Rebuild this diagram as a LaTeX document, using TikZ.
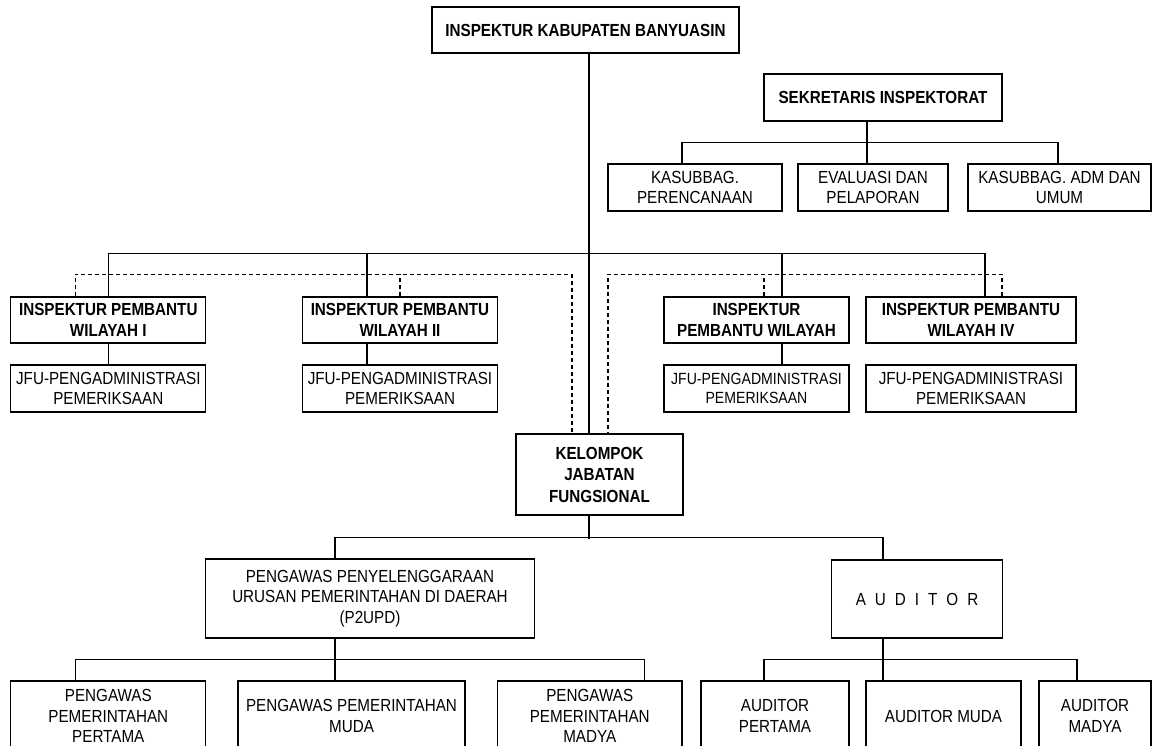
\documentclass[tikz,border=0pt]{standalone}
\usepackage{fontspec}
\setmainfont{Liberation Sans}[FakeStretch=0.87]
\usetikzlibrary{positioning}

\begin{document}
\begin{tikzpicture}[x=1pt,y=-1pt,
    kotak/.style={draw=black,line width=1.2pt,align=center,inner sep=0pt,
      font=\fontsize{17.5}{20.5}\selectfont},
    tebal/.style={kotak,font=\fontsize{17.5}{21.5}\selectfont\bfseries},
    garis/.style={line width=1.2pt},
    putus/.style={line width=1.2pt,dash pattern=on 4pt off 3pt}]
    \useasboundingbox (0,0) rectangle (1157,746);
    \clip (0,0) rectangle (1157,746);
    \fill[white] (0,0) rectangle (1157,746);
    \node[tebal,minimum width=307,minimum height=46] (kepala) at (585.5,30) {INSPEKTUR KABUPATEN BANYUASIN};
    \node[tebal,minimum width=238,minimum height=47] (sekretaris) at (883,97.5) {SEKRETARIS INSPEKTORAT};
    \node[kotak,minimum width=174,minimum height=47] (kasub1) at (695,187.5) {KASUBBAG.\\PERENCANAAN};
    \node[kotak,minimum width=150,minimum height=47] (evaluasi) at (873,187.5) {EVALUASI DAN\\PELAPORAN};
    \node[kotak,minimum width=183,minimum height=47] (kasub2) at (1059.5,187.5) {KASUBBAG. ADM DAN\\UMUM};%sekretariat%
    \node[tebal,minimum width=195,minimum height=46] (insp1) at (108.3,320) {INSPEKTUR PEMBANTU\\WILAYAH I};
    \node[tebal,minimum width=195.5,minimum height=46] (insp2) at (400,320) {INSPEKTUR PEMBANTU\\WILAYAH II};
    \node[tebal,minimum width=185,minimum height=46] (insp3) at (756.5,320) {INSPEKTUR\\PEMBANTU WILAYAH};
    \node[tebal,minimum width=210,minimum height=46] (insp4) at (971,320) {INSPEKTUR PEMBANTU\\WILAYAH IV};
    \node[kotak,minimum width=195,minimum height=47] (jfu1) at (108.3,388.5) {JFU-PENGADMINISTRASI\\PEMERIKSAAN};
    \node[kotak,minimum width=195.5,minimum height=47] (jfu2) at (400,388.5) {JFU-PENGADMINISTRASI\\PEMERIKSAAN};
    \node[kotak,minimum width=185,minimum height=47,font=\fontsize{16.2}{19}\selectfont] (jfu3) at (756.5,388.5) {JFU-PENGADMINISTRASI\\PEMERIKSAAN};
    \node[kotak,minimum width=210,minimum height=47] (jfu4) at (971,388.5) {JFU-PENGADMINISTRASI\\PEMERIKSAAN};%wilayah%
    \node[tebal,minimum width=167,minimum height=81] (kelompok) at (599.5,474.5) {KELOMPOK\\JABATAN\\FUNGSIONAL};
    \node[kotak,minimum width=329,minimum height=79] (p2upd) at (370,598.5) {PENGAWAS PENYELENGGARAAN\\URUSAN PEMERINTAHAN DI DAERAH\\(P2UPD)};
    \node[kotak,minimum width=170.5,minimum height=78] (auditor) at (917,599) {A\hspace{9pt}U\hspace{9pt}D\hspace{9pt}I\hspace{9pt}T\hspace{9pt}O\hspace{9pt}R};
    \node[kotak,minimum width=195,minimum height=70] (pp1) at (108.3,716) {PENGAWAS\\PEMERINTAHAN\\PERTAMA};
    \node[kotak,minimum width=227,minimum height=70] (pp2) at (351.5,716) {PENGAWAS PEMERINTAHAN\\MUDA};
    \node[kotak,minimum width=184.5,minimum height=70] (pp3) at (589.75,716) {PENGAWAS\\PEMERINTAHAN\\MADYA};
    \node[kotak,minimum width=148,minimum height=70] (ap1) at (775,716) {AUDITOR\\PERTAMA};
    \node[kotak,minimum width=155,minimum height=70] (ap2) at (943.5,716) {AUDITOR MUDA};
    \node[kotak,minimum width=112,minimum height=70] (ap3) at (1095,716) {AUDITOR\\MADYA};%fungsional%
    \draw[garis] ([xshift=3.5]kepala.south) -- ([xshift=3.5]kepala.south |- kelompok.north);
    \draw[garis] ([xshift=-16]sekretaris.south) -- ([xshift=-16]sekretaris.south |- evaluasi.north);
    \draw[garis] ([xshift=-13]kasub1.north) -- ++(0,-21) -| ([xshift=-1.5]kasub2.north);
    \draw[garis] (insp1.north) -- ++(0,-43) -| ([xshift=14]insp4.north);
    \draw[garis] ([xshift=-33]insp2.north) -- ++(0,-43);
    \draw[garis] ([xshift=25.5]insp3.north) -- ++(0,-43);
    \draw[putus] ([xshift=-33]insp1.north) -- ++(0,-22) -| ([xshift=-27.5]kelompok.north);
    \draw[putus] (insp2.north) -- ++(0,-22);
    \draw[putus] ([xshift=31]insp4.north) -- ++(0,-22) -| ([xshift=8.5]kelompok.north);
    \draw[putus] ([xshift=7.5]insp3.north) -- ++(0,-22);
    \draw[garis] (insp1.south) -- (jfu1.north);
    \draw[garis] ([xshift=-33]insp2.south) -- ([xshift=-33]jfu2.north);
    \draw[garis] ([xshift=25.5]insp3.south) -- ([xshift=25.5]jfu3.north);
    \draw[garis] ([xshift=-10.5]kelompok.south) -- ++(0,23);
    \draw[garis] ([xshift=-35]p2upd.north) -- ++(0,-21) -| ([xshift=-34]auditor.north);
    \draw[garis] ([xshift=-35]p2upd.south) -- ([xshift=-35]p2upd.south |- pp2.north);
    \draw[garis] ([xshift=-33]pp1.north) -- ++(0,-21) -| ([xshift=55]pp3.north);
    \draw[garis] ([xshift=-34]auditor.south) -- ([xshift=-34]auditor.south |- ap2.north);
    \draw[garis] ([xshift=-11]ap1.north) -- ++(0,-21) -| ([xshift=-18]ap3.north);
\end{tikzpicture}
\end{document}
